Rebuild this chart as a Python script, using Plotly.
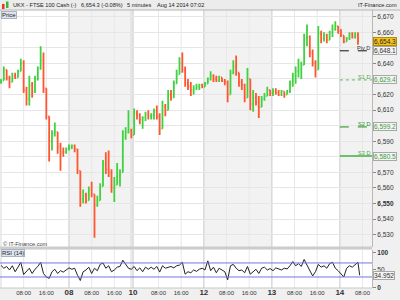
import plotly.graph_objects as go

# ---------------- data ----------------
hours = list(range(127))  # hourly candles, hour 0 = Aug 07 00:00 (weekend removed)
low = [6627,6633,6629,6624,6629,6630,6632,6635,6621,6613,
       6613,6618,6621,6629,6636,6621,6604,6577,6584,6593,
       6582,6571,6580,6582,6584,6585,6583,6569,6548,6550,
       6550,6552,6554,6528,6548,6552,6561,6569,6567,6557,
       6551,6562,6561,6570,6591,6595,6592,6594,6604,6601,
       6598,6603,6604,6604,6604,6604,6594,6598,6606,6610,
       6616,6618,6627,6633,6634,6625,6623,6619,6620,6623,
       6623,6624,6625,6627,6629,6628,6628,6628,6628,6626,
       6615,6620,6633,6632,6625,6623,6615,6618,6610,6609,
       6613,6605,6612,6616,6619,6619,6619,6620,6619,6619,
       6618,6620,6621,6625,6627,6631,6630,6639,6651,6644,
       6638,6631,6636,6653,6654,6653,6655,6657,6661,6659,
       6657,6653,6654,6655,6656,6656,6652]
high = [6630,6638,6636,6632,6634,6634,6636,6643,6642,6625,
        6632,6628,6632,6638,6651,6647,6624,6606,6597,6602,
        6596,6589,6586,6586,6588,6588,6588,6585,6571,6559,
        6557,6561,6564,6556,6555,6563,6578,6583,6584,6572,
        6567,6576,6572,6597,6599,6610,6598,6611,6610,6608,
        6606,6609,6610,6608,6611,6613,6608,6616,6614,6623,
        6623,6629,6636,6644,6647,6638,6630,6628,6626,6627,
        6627,6627,6628,6631,6635,6633,6632,6632,6631,6630,
        6629,6636,6642,6645,6634,6630,6627,6637,6630,6623,
        6621,6619,6619,6621,6625,6623,6624,6624,6623,6623,
        6622,6623,6629,6634,6638,6643,6641,6659,6665,6658,
        6649,6642,6664,6661,6660,6659,6661,6665,6667,6664,
        6662,6658,6657,6660,6660,6660,6660]
close = [6629,6636,6631,6628,6632,6631,6635,6640,6623,6617,
         6626,6622,6630,6637,6642,6624,6606,6590,6595,6596,
         6586,6583,6583,6585,6586,6587,6585,6571,6553,6555,
         6552,6559,6556,6549,6552,6561,6575,6572,6570,6560,
         6562,6568,6570,6593,6596,6597,6594,6608,6607,6604,
         6605,6607,6606,6607,6609,6606,6598,6612,6610,6620,
         6618,6627,6633,6640,6636,6627,6625,6623,6624,6625,
         6626,6625,6627,6630,6632,6630,6629,6631,6629,6628,
         6620,6634,6638,6634,6628,6626,6618,6630,6614,6618,
         6615,6612,6617,6619,6623,6621,6622,6621,6620,6622,
         6620,6622,6627,6632,6635,6636,6639,6656,6657,6647,
         6640,6636,6659,6656,6658,6655,6660,6662,6664,6661,
         6658,6654,6656,6659,6657,6658,6654.3]
first_open = 6628

rsi_x = list(range(127)) + [126.6]
rsi = [63,55,60,50,62,45,58,72,37,45,
       55,40,52,60,72,40,30,26,45,52,
       40,48,44,50,56,52,55,35,20,45,
       50,58,40,55,48,66,70,55,62,45,
       50,58,60,78,65,55,52,60,48,56,
       45,58,52,58,52,60,44,62,55,58,
       60,56,62,64,72,38,45,42,50,46,
       52,55,50,76,48,58,42,55,50,45,
       22,62,66,55,48,50,42,60,38,45,
       52,40,55,58,50,54,48,56,52,50,
       55,53,62,74,62,68,60,80,64,48,
       33,45,66,58,62,55,68,72,55,48,
       40,30,55,62,58,64,72,34.952]

price_ticks = list(range(6530, 6671, 10))
hidden_ticks = [6580, 6600, 6630, 6650]
bold_ticks = [6550]

pivots = [("Piv D", 6648.1), ("S1 D", 6629.4), ("S2 D", 6599.2), ("S3 D", 6580.5)]
last_price = 6654.3
last_rsi = 34.952

x_tick_vals = [8, 16, 24, 32, 40, 46.6, 55.6, 63.6, 71.6, 79.6, 87.6, 95.6, 103.6, 111.6, 119.6, 127.6]
x_tick_text = ["08:00", "16:00", "08", "08:00", "16:00", "10", "08:00", "16:00", "12",
               "08:00", "16:00", "13", "08:00", "16:00", "14", "08:00"]
day_starts = [0, 24, 46.6, 71.6, 95.6, 119.6]
shaded_days = [(24, 46.6), (71.6, 95.6), (119.6, 131)]

# ---------------- geometry helpers ----------------
W, H = 400, 300
ML, MR, MT, MB = 0, 28, 10, 12
PW = W - ML - MR
PH = H - MT - MB


def px(x):
    return (x - ML) / PW


def py(y):
    return (H - MB - y) / PH


FONT = "Liberation Sans, Arial, sans-serif"

opens = [first_open] + close[:-1]
hi = [max(h, o, c) for h, o, c in zip(high, opens, close)]
lo = [min(l, o, c) for l, o, c in zip(low, opens, close)]

fig = go.Figure()
fig.add_trace(go.Ohlc(
    x=hours, open=opens, high=hi, low=lo, close=close, tickwidth=0.35,
    increasing=dict(line=dict(color="#3fd23f", width=1.8)),
    decreasing=dict(line=dict(color="#ff5530", width=1.8)),
    xaxis="x", yaxis="y", showlegend=False, hoverinfo="skip"))

fig.add_trace(go.Scatter(
    x=rsi_x, y=rsi, mode="lines", line=dict(color="#222222", width=1),
    xaxis="x2", yaxis="y2", showlegend=False, hoverinfo="skip"))

shapes = []
# title bar
shapes.append(dict(type="rect", xref="paper", yref="paper", x0=px(0), x1=px(400), y0=py(10), y1=py(0),
                   fillcolor="#ececec", line=dict(width=0), layer="below"))
shapes.append(dict(type="line", xref="paper", yref="paper", x0=px(0), x1=px(400), y0=py(10), y1=py(10),
                   line=dict(color="#b4b4b4", width=1)))
# day shading
for a, b in shaded_days:
    shapes.append(dict(type="rect", xref="x", yref="y domain", x0=a, x1=b, y0=0, y1=1,
                       fillcolor="#f2f2f2", line=dict(width=0), layer="below"))
# vertical grid lines
for v in x_tick_vals + day_starts:
    col = "#d8d8d8" if v in day_starts else "#e8e8e8"
    for yr in ("y domain", "y2 domain"):
        shapes.append(dict(type="line", xref="x", yref=yr, x0=v, x1=v, y0=0, y1=1,
                           line=dict(color=col, width=1), layer="below"))
# double line at weekend gap
for yr in ("y domain", "y2 domain"):
    shapes.append(dict(type="line", xref="x", yref=yr, x0=45.9, x1=45.9, y0=0, y1=1,
                       line=dict(color="#d8d8d8", width=1), layer="below"))
# separator between panels
shapes.append(dict(type="rect", xref="paper", yref="paper", x0=px(0), x1=px(372), y0=py(249.5), y1=py(246.5),
                   fillcolor="#cccccc", line=dict(width=0)))
shapes.append(dict(type="line", xref="paper", yref="paper", x0=px(0), x1=px(372), y0=py(288), y1=py(288),
                   line=dict(color="#c8c8c8", width=1)))
# RSI 70/30 lines
for lvl in (70, 30):
    shapes.append(dict(type="line", xref="x2 domain", yref="y2", x0=0, x1=1, y0=lvl, y1=lvl,
                       line=dict(color="#7474e8", width=1)))
# pivot lines
piv_styles = {
    "Piv D": dict(color="#111111", width=1, dash="dash"),
    "S1 D": dict(color="#5db85d", width=1, dash="dot"),
    "S2 D": dict(color="#1a8f1a", width=1, dash="dash"),
    "S3 D": dict(color="#6cbf6c", width=2, dash="solid"),
}
for name, lvl in pivots:
    shapes.append(dict(type="line", xref="x", yref="y", x0=119.6, x1=131, y0=lvl, y1=lvl,
                       line=piv_styles[name]))
# small candle icon in title
shapes.append(dict(type="rect", xref="paper", yref="paper", x0=px(2), x1=px(4.5), y0=py(9), y1=py(4),
                   fillcolor="#ee3322", line=dict(width=0)))
shapes.append(dict(type="rect", xref="paper", yref="paper", x0=px(6), x1=px(8.5), y0=py(8), y1=py(1.5),
                   fillcolor="#33bb33", line=dict(width=0)))

ann = []


def text(x, y, s, size=7, color="#222", anchor="left", family=FONT, **kw):
    ann.append(dict(xref="paper", yref="paper", x=px(x), y=py(y), text=s,
                    showarrow=False, xanchor=anchor, yanchor="middle",
                    font=dict(family=family, size=size, color=color), **kw))


text(11, 5, "UKX - FTSE 100 Cash (-)", size=5.6)
text(79, 5, "6,654.3 (-0.08%)", size=5.6)
text(125, 5, "5 minutes", size=5.6)
text(155, 5, "Aug 14 2014 07:02", size=5.6)
text(399, 5, "IT-Finance.com", anchor="right", size=5.6)
text(1, 14.5, "Price", size=6, color="#223", bgcolor="#dfe5ec", bordercolor="#aab4c0", borderwidth=1, borderpad=0)
text(1, 244, "© IT-Finance.com", size=5.6, color="#444")
text(1, 252.5, "RSI (14)", size=6, color="#223", bgcolor="#dfe5ec", bordercolor="#aab4c0", borderwidth=1, borderpad=0)

piv_colors = {"Piv D": "#333333", "S1 D": "#4aa84a", "S2 D": "#1a8f1a", "S3 D": "#4aa84a"}
for name, lvl in pivots:
    ann.append(dict(xref="x", yref="y", x=130.9, y=lvl, text=name, showarrow=False,
                    xanchor="right", yanchor="bottom", yshift=-2,
                    font=dict(family=FONT, size=5.6, color=piv_colors[name])))
    ann.append(dict(xref="paper", yref="y", x=px(373), y=lvl, text="{:,.1f}".format(lvl), showarrow=False,
                    xanchor="left", yanchor="middle",
                    font=dict(family=FONT, size=6.5, color="#333" if name == "Piv D" else "#3a9a3a"),
                    bgcolor="#f4f4f4", bordercolor="#a8a8a8", borderwidth=1, borderpad=0))
ann.append(dict(xref="paper", yref="y", x=px(373), y=last_price, text="{:,.1f}".format(last_price),
                showarrow=False, xanchor="left", yanchor="middle",
                font=dict(family=FONT, size=6.5, color="#222"),
                bgcolor="#f6c21c", bordercolor="#b38a00", borderwidth=1, borderpad=0))
ann.append(dict(xref="paper", yref="y2", x=px(373), y=last_rsi, text="{:.3f}".format(last_rsi),
                showarrow=False, xanchor="left", yanchor="middle",
                font=dict(family=FONT, size=6.5, color="#333"),
                bgcolor="#f4f4f4", bordercolor="#a8a8a8", borderwidth=1, borderpad=0))

price_text = []
for v in price_ticks:
    if v in hidden_ticks:
        price_text.append("")
    elif v in bold_ticks:
        price_text.append("<b>{:,}</b>".format(v))
    else:
        price_text.append("{:,}".format(v))

x_text = []
for t in x_tick_text:
    if ":" in t:
        x_text.append(t)
    else:
        x_text.append("<span style='font-size:8px'><b>%s</b></span>" % t)

fig.update_layout(
    width=W, height=H, margin=dict(l=ML, r=MR, t=MT, b=MB),
    paper_bgcolor="#f0f0f0", plot_bgcolor="#ffffff",
    showlegend=False, hovermode=False,
    font=dict(family=FONT, size=6.5, color="#333"),
    xaxis=dict(domain=[0, 1], range=[-0.35, 130.95], showgrid=False, showticklabels=False,
               zeroline=False, rangeslider=dict(visible=False), anchor="y", matches="x2"),
    xaxis2=dict(domain=[0, 1], range=[-0.35, 130.95], showgrid=False, zeroline=False, anchor="y2",
                tickmode="array", tickvals=x_tick_vals, ticktext=x_text, ticks="",
                tickfont=dict(family=FONT, size=6, color="#333")),
    yaxis=dict(domain=[py(247), 1], range=[6522.1, 6674.3], side="right", anchor="x",
               tickmode="array", tickvals=price_ticks, ticktext=price_text,
               ticks="outside", ticklen=3, tickcolor="#888", gridcolor="#e6e6e6", zeroline=False,
               showline=True, linecolor="#b8b8b8", tickfont=dict(family=FONT, size=6.5, color="#333")),
    yaxis2=dict(domain=[0, py(249.5)], range=[-1.4, 108.4], side="right", anchor="x2",
                tickmode="array", tickvals=[0, 50, 100], ticktext=["<b>0</b>", "50", "<b>100</b>"],
                ticks="outside", ticklen=3, tickcolor="#888", showgrid=False, zeroline=False,
                showline=True, linecolor="#b8b8b8", tickfont=dict(family=FONT, size=6.5, color="#333")),
    shapes=shapes, annotations=ann,
)

fig.write_html("out.html")
